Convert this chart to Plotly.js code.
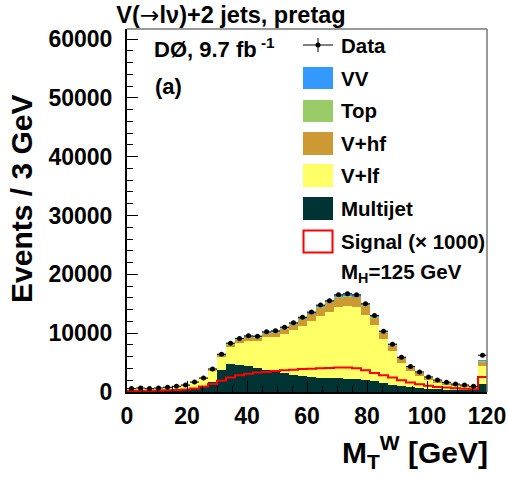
<!DOCTYPE html>
<html><head><meta charset="utf-8">
<script src="https://cdn.plot.ly/plotly-3.0.1.min.js"></script>
<style>html,body{margin:0;padding:0;background:#fff}</style>
</head><body><div id="chart" style="width:508px;height:477px"></div>
<script>
const binCenters = [1.5,4.5,7.5,10.5,13.5,16.5,19.5,22.5,25.5,28.5,31.5,34.5,37.5,40.5,43.5,46.5,49.5,52.5,55.5,58.5,61.5,64.5,67.5,70.5,73.5,76.5,79.5,82.5,85.5,88.5,91.5,94.5,97.5,100.5,103.5,106.5,109.5,112.5,115.5,118.5];
const binHalfWidth = 1.5;
const dataEvents = [580,680,580,680,800,970,1190,1700,2390,3920,6420,8300,9100,9540,9490,10220,10390,11020,11750,12700,13580,14770,15500,16520,16700,16520,14990,13010,10340,8130,5910,4330,3410,2560,2040,1650,1360,1190,970,6250];
const multijet = [250,250,250,280,300,350,450,650,1000,1700,3800,4700,4550,4400,4150,3700,3500,3250,2850,2650,2500,2400,2350,2300,2250,2200,2000,1800,1500,1200,950,800,650,550,450,400,350,300,300,1430];
const vlf = [280,380,280,350,430,530,640,910,1190,1890,2130,2920,3800,4330,4470,5590,5890,6660,7670,8640,9490,10600,11260,12160,12330,12270,11120,9580,7470,5770,3950,2720,2080,1450,1120,850,660,580,420,2950];
const vhf = [30,30,30,30,40,50,60,80,120,200,300,450,500,550,600,650,700,800,900,1050,1200,1350,1450,1600,1650,1600,1450,1250,1050,900,800,650,550,450,380,320,280,250,200,800];
const topQuark = [10,10,10,10,15,15,20,25,35,50,70,80,90,95,100,105,110,115,120,130,140,150,155,160,160,155,145,130,110,95,80,65,55,45,40,35,30,28,25,100];
const diboson = [10,10,10,10,15,20,25,35,50,80,120,150,160,170,175,180,190,200,210,230,250,270,290,300,310,300,280,250,210,170,130,100,80,65,55,45,40,35,30,150];
const signalX1000 = [200,220,230,250,280,320,420,600,950,1350,1900,2450,2850,3100,3300,3400,3550,3700,3800,3900,3950,4050,4100,4150,4150,4050,3700,3250,2850,2450,2000,1600,1300,1050,850,750,620,550,480,2560];

const xTicks = [0,20,40,60,80,100,120];
const yTicks = [0,10000,20000,30000,40000,50000,60000];

const colors = {vv:'#3399ff', top:'#99cc66', vhf:'#cc9933', vlf:'#ffff66', mj:'#003333', sig:'#ff0000'};
const FONT = 'Liberation Sans, Arial, Helvetica, sans-serif';

function bar(name, y, color){
  return {type:'bar', name:name, x:binCenters, y:y, width:binHalfWidth*2,
    marker:{color:color, line:{width:0}}, showlegend:false, hoverinfo:'skip'};
}
const edges = binCenters.map(c=>c-binHalfWidth).concat([binCenters[binCenters.length-1]+binHalfWidth]);
const sigY = signalX1000.concat([signalX1000[signalX1000.length-1]]);

const traces = [
  bar('Multijet', multijet, colors.mj),
  bar('V+lf', vlf, colors.vlf),
  bar('V+hf', vhf, colors.vhf),
  bar('Top', topQuark, colors.top),
  bar('VV', diboson, colors.vv),
  {type:'scatter', mode:'lines', name:'Signal', x:edges, y:sigY, line:{shape:'hv', color:colors.sig, width:2}, showlegend:false},
  {type:'scatter', mode:'markers', name:'Data', x:binCenters, y:dataEvents,
   marker:{color:'#000', size:5},
   error_x:{type:'constant', value:binHalfWidth, thickness:1, width:0, color:'#000'},
   error_y:{type:'sqrt', thickness:1, width:0, color:'#000'}, showlegend:false}
];

// pixel -> paper helpers for decorations (plot area 127..487 x 29..392)
const L=127, R=487, T=29, B=392;
const px = p => (p-L)/(R-L);
const py = p => (B-p)/(B-T);

const shapes = [
  {type:'line', xref:'paper', yref:'paper', x0:0, x1:1, y0:1, y1:1, line:{color:'#777', width:1.5}},
  {type:'line', xref:'paper', yref:'paper', x0:1, x1:1, y0:0, y1:1, line:{color:'#777', width:1.5}},
  {type:'line', xref:'paper', yref:'paper', x0:px(303), x1:px(333), y0:py(45), y1:py(45), line:{color:'#000', width:1}},
  {type:'line', xref:'paper', yref:'paper', x0:px(318), x1:px(318), y0:py(38), y1:py(52), line:{color:'#000', width:1}},
  {type:'circle', xref:'paper', yref:'paper', x0:px(315.5), x1:px(320.5), y0:py(47.5), y1:py(42.5), fillcolor:'#000', line:{color:'#000', width:0}},
];
const legendRows = [
  {label:'VV', color:colors.vv, y0:67, y1:89},
  {label:'Top', color:colors.top, y0:100, y1:122},
  {label:'V+hf', color:colors.vhf, y0:132, y1:155},
  {label:'V+lf', color:colors.vlf, y0:164, y1:187},
  {label:'Multijet', color:colors.mj, y0:197, y1:220},
];
legendRows.forEach(r=>{
  shapes.push({type:'rect', xref:'paper', yref:'paper', x0:px(303), x1:px(333), y0:py(r.y1), y1:py(r.y0), fillcolor:r.color, line:{width:0}});
});
shapes.push({type:'rect', xref:'paper', yref:'paper', x0:px(303.5), x1:px(332.5), y0:py(252.5), y1:py(230.5), fillcolor:'#fff', line:{color:colors.sig, width:2}});

const tf = (size)=>({family:FONT, size:size, color:'#000', weight:'bold'});
const annotations = [];
function ann(text, x, y, size, xanchor, extra){
  annotations.push(Object.assign({text:text, xref:'paper', yref:'paper', x:px(x), y:py(y), showarrow:false,
    xanchor:xanchor||'left', yanchor:'middle', font:tf(size)}, extra||{}));
}
ann('Data', 339, 45, 20.5);
legendRows.forEach(r=>ann(r.label, 339, (r.y0+r.y1)/2, 20.5));
ann('Signal (\u00d7 1000)', 339, 241.5, 20.5);
ann('M<sub>H</sub>=125 GeV', 339, 273, 20.5);
ann('D\u00d8, 9.7 fb<sup> -1</sup>', 152, 48, 22);
ann('(a)', 153, 87, 22);
ann('Events / 3 GeV', 22, 199, 30, 'center', {textangle:-90});
ann('M<sub>T</sub><sup>W</sup> [GeV]', 490, 452, 30, 'right');

const layout = {
  width:508, height:477,
  margin:{l:L, r:508-R, t:T, b:477-B, pad:0},
  paper_bgcolor:'#fff', plot_bgcolor:'#fff',
  barmode:'stack', bargap:0,
  showlegend:false,
  title:{text:'V(<span style="font-family:DejaVu Sans;font-weight:normal">\u2192</span>l\u03bd)+2 jets, pretag', x:231/508, xref:'container', xanchor:'center', y:1-15/477, yref:'container', yanchor:'middle', font:tf(23.5)},
  xaxis:{range:[0,120], tickvals:xTicks, ticks:'inside', ticklen:11, tickwidth:1, tickcolor:'#000',
    minor:{ticks:'inside', ticklen:6, dtick:5, tickcolor:'#000', tickwidth:1},
    showline:true, linecolor:'#000', linewidth:2, showgrid:false, zeroline:false,
    tickfont:tf(23), ticklabelstandoff:2, fixedrange:true},
  yaxis:{range:[0,61700], tickvals:yTicks, tickformat:'d', ticks:'inside', ticklen:11, tickwidth:1, tickcolor:'#000',
    minor:{ticks:'inside', ticklen:6, dtick:2000, tickcolor:'#000', tickwidth:1},
    showline:true, linecolor:'#000', linewidth:2, showgrid:false, zeroline:false,
    tickfont:tf(23), ticklabelstandoff:8, fixedrange:true},
  shapes:shapes, annotations:annotations
};
Plotly.newPlot('chart', traces, layout, {displayModeBar:false, staticPlot:true});
</script></body></html>
